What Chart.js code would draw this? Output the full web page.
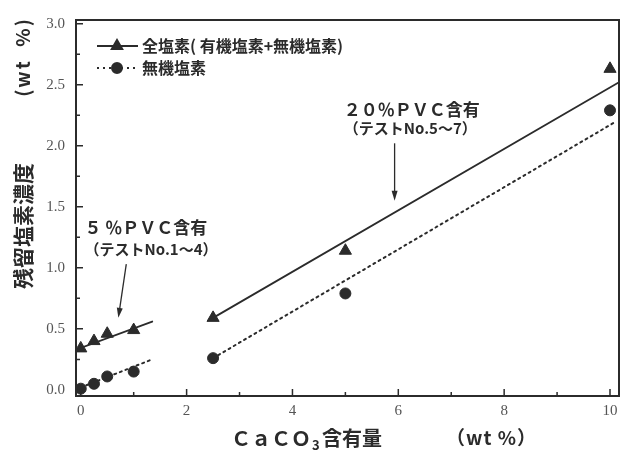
<!DOCTYPE html>
<html>
<head>
<meta charset="utf-8">
<script src="https://cdn.jsdelivr.net/npm/chart.js@4/dist/chart.umd.min.js"></script>
<style>
  html, body { margin: 0; background: #fff; }
  #wrap { width: 627px; height: 457px; position: relative; }
</style>
</head>
<body>
<div id="wrap"><canvas id="chart"></canvas></div>
<script>
// measured points
const CACO3    = [0, 0.25, 0.5, 1, 2.5, 5, 10];
const TOTAL_CL = [0.34, 0.40, 0.46, 0.49, 0.59, 1.14, 2.63];
const INORG_CL = [0.01, 0.05, 0.11, 0.15, 0.26, 0.79, 2.29];

// fitted lines (end points)
const FIT_TOTAL_5_X  = [-0.09, 1.35];
const FIT_TOTAL_5_Y  = [0.33, 0.56];
const FIT_INORG_5_X  = [0, 1.35];
const FIT_INORG_5_Y  = [0.02, 0.25];
const FIT_TOTAL_20_X = [2.5, 10.17];
const FIT_TOTAL_20_Y = [0.59, 2.52];
const FIT_INORG_20_X = [2.5, 10.08];
const FIT_INORG_20_Y = [0.26, 2.19];

const X_TICKS = [0, 2, 4, 6, 8, 10];
const X_MINOR = [1, 3, 5, 7, 9];
const Y_TICKS = [0, 0.5, 1.0, 1.5, 2.0, 2.5, 3.0];
const Y_MINOR = [0.25, 0.75, 1.25, 1.75, 2.25, 2.75];

const LEGEND_LABELS = ['全塩素( 有機塩素+無機塩素)', '無機塩素'];
const NOTE_20 = ['２０％ＰＶＣ含有', '（テストNo.5～7）'];
const NOTE_5  = ['５ ％ＰＶＣ含有', '（テストNo.1～4）'];

const INK = '#2b2b2b';
const CJK = '"Noto Sans CJK JP", "Noto Sans", sans-serif';

const pts = (xs, ys) => xs.map((x, i) => ({ x, y: ys[i] }));

function fitLine(xs, ys, dashed) {
    return {
        type: 'line',
        data: pts(xs, ys),
        borderColor: INK,
        borderWidth: dashed ? 2 : 1.8,
        borderDash: dashed ? [2, 4] : [],
        borderCapStyle: 'round',
        pointRadius: 0,
        fill: false,
        tension: 0,
    };
}

function arrow(ctx, x0, y0, x1, y1) {
    const a = Math.atan2(y1 - y0, x1 - x0);
    ctx.beginPath();
    ctx.moveTo(x0, y0);
    ctx.lineTo(x1 - 6 * Math.cos(a), y1 - 6 * Math.sin(a));
    ctx.stroke();
    ctx.beginPath();
    ctx.moveTo(x1, y1);
    ctx.lineTo(x1 - 10 * Math.cos(a) + 3 * Math.sin(a), y1 - 10 * Math.sin(a) - 3 * Math.cos(a));
    ctx.lineTo(x1 - 10 * Math.cos(a) - 3 * Math.sin(a), y1 - 10 * Math.sin(a) + 3 * Math.cos(a));
    ctx.closePath();
    ctx.fill();
}

const decor = {
    id: 'decor',
    afterDraw(chart) {
        const { ctx, chartArea: a, scales: { x, y } } = chart;
        ctx.save();
        ctx.strokeStyle = INK;
        ctx.fillStyle = INK;

        // frame
        ctx.lineWidth = 2;
        ctx.strokeRect(a.left, a.top, a.right - a.left, a.bottom - a.top);

        // inward ticks
        ctx.lineWidth = 1.5;
        ctx.beginPath();
        X_TICKS.forEach(v => { const p = x.getPixelForValue(v); ctx.moveTo(p, a.bottom); ctx.lineTo(p, a.bottom - 7); });
        X_MINOR.forEach(v => { const p = x.getPixelForValue(v); ctx.moveTo(p, a.bottom); ctx.lineTo(p, a.bottom - 4); });
        Y_TICKS.forEach(v => { const p = y.getPixelForValue(v); ctx.moveTo(a.left, p); ctx.lineTo(a.left + 7, p); });
        Y_MINOR.forEach(v => { const p = y.getPixelForValue(v); ctx.moveTo(a.left, p); ctx.lineTo(a.left + 4, p); });
        ctx.stroke();

        // legend
        const lx = a.left + 21, rows = [a.top + 26, a.top + 48];
        ctx.lineWidth = 1.8;
        ctx.beginPath(); ctx.moveTo(lx, rows[0]); ctx.lineTo(lx + 41, rows[0]); ctx.stroke();
        ctx.setLineDash([2, 4]); ctx.lineWidth = 2;
        ctx.beginPath(); ctx.moveTo(lx, rows[1]); ctx.lineTo(lx + 41, rows[1]); ctx.stroke();
        ctx.setLineDash([]);
        Chart.helpers.drawPoint(ctx, { pointStyle: 'triangle', radius: 6, borderWidth: 1 }, lx + 20, rows[0]);
        Chart.helpers.drawPoint(ctx, { pointStyle: 'circle', radius: 5, borderWidth: 1 }, lx + 20, rows[1]);
        ctx.font = `bold 16px ${CJK}`;
        ctx.textBaseline = 'middle';
        ctx.textAlign = 'left';
        ctx.fillText(LEGEND_LABELS[0], lx + 45, rows[0]);
        ctx.fillText(LEGEND_LABELS[1], lx + 45, rows[1]);

        // notes
        ctx.font = `bold 17px ${CJK}`;
        ctx.fillText(NOTE_20[0], x.getPixelForValue(4.97), y.getPixelForValue(2.30));
        ctx.fillText(NOTE_5[0], x.getPixelForValue(0.07), y.getPixelForValue(1.33));
        ctx.font = `bold 15px ${CJK}`;
        ctx.fillText(NOTE_20[1], x.getPixelForValue(4.97), y.getPixelForValue(2.14));
        ctx.fillText(NOTE_5[1], x.getPixelForValue(0.07), y.getPixelForValue(1.15));

        ctx.lineWidth = 1.3;
        arrow(ctx, x.getPixelForValue(5.93), y.getPixelForValue(2.02), x.getPixelForValue(5.93), y.getPixelForValue(1.55));
        arrow(ctx, x.getPixelForValue(0.86), y.getPixelForValue(1.03), x.getPixelForValue(0.71), y.getPixelForValue(0.59));

        // y title
        ctx.save();
        ctx.translate(23, 0);
        ctx.rotate(-Math.PI / 2);
        ctx.textAlign = 'center';
        ctx.font = `bold 21px ${CJK}`;
        ctx.fillText('残留塩素濃度', -226, 0);
        ctx.font = `bold 19px ${CJK}`;
        ctx.letterSpacing = '2px';
        ctx.fillText('(wt  %)', -57, 0);
        ctx.restore();

        // x title
        const ty = 438;
        ctx.font = `bold 20px ${CJK}`;
        ctx.fillText('ＣａＣＯ', 231, ty);
        ctx.font = `bold 13px ${CJK}`;
        ctx.fillText('3', 312, ty + 7);
        ctx.font = `bold 20px ${CJK}`;
        ctx.fillText('含有量', 322, ty);
        ctx.font = `bold 19px ${CJK}`;
        ctx.letterSpacing = '1px';
        ctx.fillText('（wt %）', 446, ty);

        ctx.restore();
    },
};

new Chart(document.getElementById('chart'), {
    type: 'scatter',
    data: {
        datasets: [
            { label: 'total', data: pts(CACO3, TOTAL_CL), pointStyle: 'triangle', pointRadius: 7,
              backgroundColor: INK, borderColor: INK, borderWidth: 1 },
            { label: 'inorganic', data: pts(CACO3, INORG_CL), pointStyle: 'circle', pointRadius: 5.5,
              backgroundColor: INK, borderColor: INK, borderWidth: 1 },
            fitLine(FIT_TOTAL_5_X, FIT_TOTAL_5_Y, false),
            fitLine(FIT_INORG_5_X, FIT_INORG_5_Y, true),
            fitLine(FIT_TOTAL_20_X, FIT_TOTAL_20_Y, false),
            fitLine(FIT_INORG_20_X, FIT_INORG_20_Y, true),
        ],
    },
    options: {
        responsive: true,
        maintainAspectRatio: false,
        animation: false,
        layout: { padding: { left: 0, top: 14, right: 2, bottom: 0 } },
        plugins: { legend: { display: false }, tooltip: { enabled: false } },
        scales: {
            x: {
                type: 'linear', min: -0.09, max: 10.17,
                afterBuildTicks: s => { s.ticks = X_TICKS.map(value => ({ value })); },
                afterFit: s => { s.height = 61; },
                grid: { display: false, drawTicks: false },
                border: { display: false },
                ticks: { color: '#555', padding: 6, font: { family: '"Liberation Serif", serif', size: 15 } },
            },
            y: {
                type: 'linear', min: -0.05, max: 3.03,
                afterBuildTicks: s => { s.ticks = Y_TICKS.map(value => ({ value })); },
                afterFit: s => { s.width = 76; },
                grid: { display: false, drawTicks: false },
                border: { display: false },
                ticks: { color: '#555', padding: 11, font: { family: '"Liberation Serif", serif', size: 15 },
                         callback: v => Number(v).toFixed(1) },
            },
        },
    },
    plugins: [decor],
});
</script>
</body>
</html>
